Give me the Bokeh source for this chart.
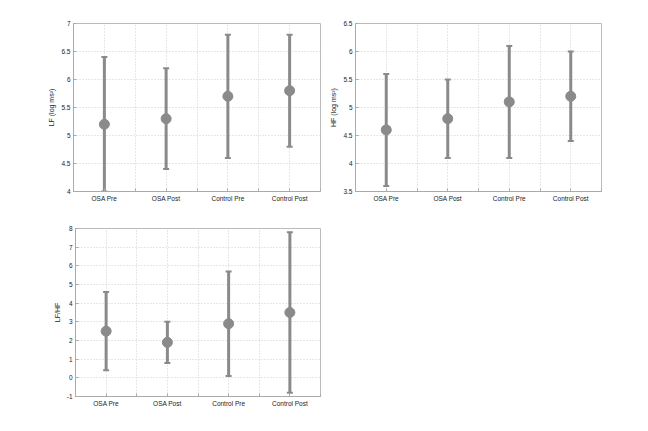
from bokeh.plotting import figure
from bokeh.layouts import column, row
from bokeh.models import (ColumnDataSource, Whisker, TeeHead, FixedTicker,
                          CustomJSTickFormatter, Range1d)
from bokeh.embed import file_html
from bokeh.resources import INLINE

categories = ["OSA Pre", "OSA Post", "Control Pre", "Control Post"]

lf_mean = [5.2, 5.3, 5.7, 5.8]
lf_upper = [6.4, 6.2, 6.8, 6.8]
lf_lower = [4.0, 4.4, 4.6, 4.8]

hf_mean = [4.6, 4.8, 5.1, 5.2]
hf_upper = [5.6, 5.5, 6.1, 6.0]
hf_lower = [3.6, 4.1, 4.1, 4.4]

ratio_mean = [2.5, 1.9, 2.9, 3.5]
ratio_upper = [4.6, 3.0, 5.7, 7.8]
ratio_lower = [0.4, 0.8, 0.1, -0.8]

lf_ticks = [4, 4.5, 5, 5.5, 6, 6.5, 7]
hf_ticks = [3.5, 4, 4.5, 5, 5.5, 6, 6.5]
ratio_ticks = [-1, 0, 1, 2, 3, 4, 5, 6, 7, 8]

FONT = "Liberation Sans"
GRAY = "#8a8a8a"


def make_panel(mean, upper, lower, yticks, ylabel, bl, bt, bb, br, fw, fh):
    xs = [i + 0.5 for i in range(len(categories))]
    p = figure(output_backend="svg", toolbar_location=None,
               frame_width=fw, frame_height=fh,
               min_border_left=bl, min_border_top=bt, min_border_bottom=bb,
               min_border_right=br,
               x_range=Range1d(0, len(categories)),
               y_range=Range1d(yticks[0], yticks[-1]))
    src = ColumnDataSource(dict(x=xs, m=mean, up=upper, lo=lower))
    w = Whisker(source=src, base="x", upper="up", lower="lo",
                line_color=GRAY, line_width=3,
                upper_head=TeeHead(size=6, line_color=GRAY, line_width=2),
                lower_head=TeeHead(size=6, line_color=GRAY, line_width=2))
    p.add_layout(w)
    p.scatter("x", "m", source=src, size=10, color=GRAY)

    xt = sorted(set([i * 0.5 for i in range(0, 2 * len(categories) + 1)]))
    p.xaxis.ticker = FixedTicker(ticks=xt)
    overrides = {}
    for t in xt:
        key = int(t) if float(t).is_integer() else t
        overrides[key] = ""
    for i, c in enumerate(categories):
        overrides[i + 0.5] = c
    p.xaxis.major_label_overrides = overrides
    p.yaxis.ticker = FixedTicker(ticks=yticks)
    p.yaxis.formatter = CustomJSTickFormatter(
        code="return String(Math.round(tick*10)/10)")
    p.yaxis.axis_label = ylabel

    for ax in (p.xaxis[0], p.yaxis[0]):
        ax.major_label_text_font = FONT
        ax.major_label_text_font_size = "6.5px"
        ax.major_label_text_color = "#222222"
        ax.axis_label_text_font = FONT
        ax.axis_label_text_font_size = "7px"
        ax.axis_label_text_font_style = "normal"
        ax.axis_label_text_color = "#222222"
        ax.axis_line_color = "#aaaaaa"
        ax.major_tick_line_color = "#aaaaaa"
        ax.major_tick_in = 3
        ax.major_tick_out = 0
        ax.minor_tick_line_color = None
        ax.major_label_standoff = 3
        ax.axis_label_standoff = 3

    for g in (p.xgrid[0], p.ygrid[0]):
        g.grid_line_color = "#cfcfcf"
        g.grid_line_dash = "1 2"
        g.grid_line_width = 1
    p.outline_line_color = "#bbbbbb"
    p.background_fill_color = "white"
    p.border_fill_color = "white"
    return p


p1 = make_panel(lf_mean, lf_upper, lf_lower, lf_ticks, "LF (log ms²)",
                73, 23, 24, 2, 247, 168)
p2 = make_panel(hf_mean, hf_upper, hf_lower, hf_ticks, "HF (log ms²)",
                33, 23, 24, 20, 246, 168)
p3 = make_panel(ratio_mean, ratio_upper, ratio_lower, ratio_ticks, "LF/HF",
                75, 13, 24, 2, 245, 168)

layout = column(row(p1, p2), row(p3))

with open("out.html", "w") as f:
    f.write(file_html(layout, INLINE))
